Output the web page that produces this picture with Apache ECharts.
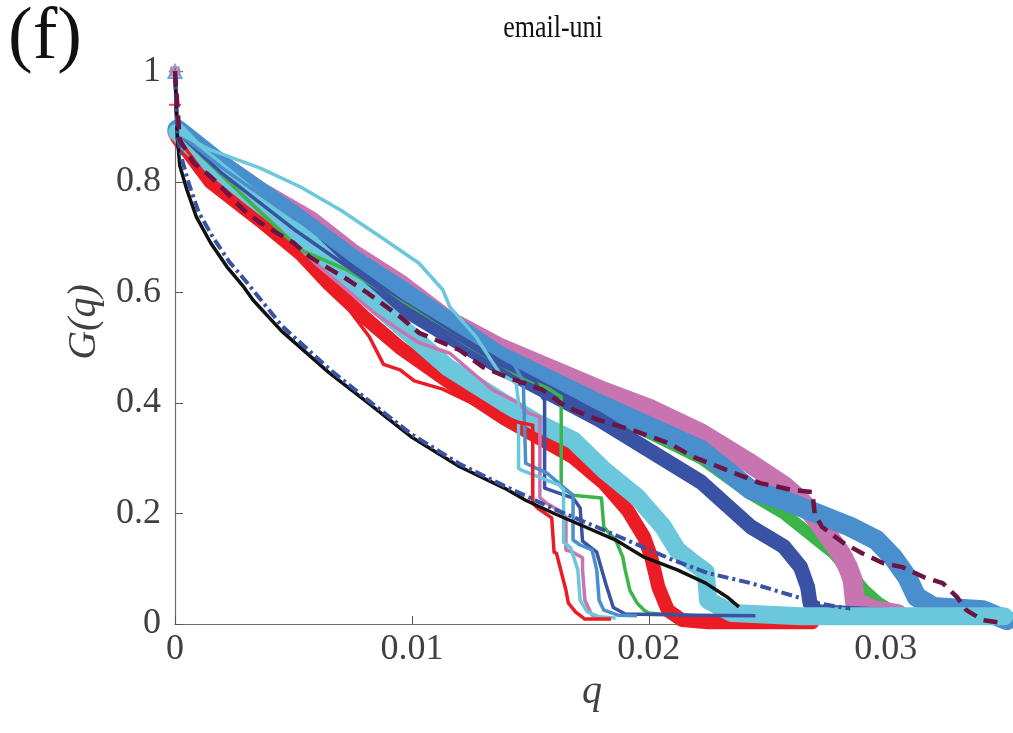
<!DOCTYPE html>
<html>
<head>
<meta charset="utf-8">
<script src="https://cdn.jsdelivr.net/npm/echarts@6/dist/echarts.min.js"></script>
<style>html,body{margin:0;padding:0;background:#fff}#c{width:1013px;height:733px}</style>
</head>
<body>
<div id="c"></div>
<script>
// ---- tick labels ----
const xTicks = [0, 0.01, 0.02, 0.03];
const yTicks = [0, 0.2, 0.4, 0.6, 0.8, 1];

// ---- marker bands (thick); each also has a marker at (0,1) ----
const greenBand = [[0.0001,0.89],[0.005,0.725],[0.0095,0.59],[0.0137,0.475],[0.0179,0.39],[0.0222,0.30],[0.0243,0.235],[0.0257,0.2],[0.0264,0.176],[0.0271,0.152],[0.0278,0.128],[0.0285,0.092],[0.0291,0.061],[0.0297,0.038],[0.0302,0.025],[0.0306,0.013]];
const pinkBand = [[0.0001,0.89],[0.002,0.83],[0.0035,0.785],[0.0057,0.73],[0.0075,0.67],[0.0095,0.615],[0.0115,0.55],[0.0137,0.5],[0.0158,0.462],[0.0179,0.424],[0.02,0.39],[0.0222,0.345],[0.0243,0.29],[0.0257,0.25],[0.0264,0.224],[0.0271,0.188],[0.0277,0.152],[0.0281,0.128],[0.0284,0.103],[0.0286,0.08],[0.0287,0.04],[0.0295,0.025],[0.0305,0.018]];
const blueBand = [[0.0001,0.895],[0.002,0.83],[0.005,0.74],[0.0075,0.66],[0.0095,0.605],[0.0137,0.485],[0.0179,0.398],[0.0222,0.315],[0.0243,0.243],[0.0257,0.224],[0.0271,0.2],[0.0285,0.176],[0.0296,0.152],[0.0303,0.121],[0.0309,0.085],[0.0313,0.049],[0.032,0.031],[0.0341,0.025],[0.0351,0.007]];
const navyBand = [[0.0001,0.89],[0.002,0.815],[0.005,0.715],[0.0075,0.635],[0.0095,0.574],[0.0137,0.465],[0.0179,0.37],[0.0222,0.257],[0.0243,0.176],[0.0257,0.14],[0.0264,0.103],[0.0267,0.067],[0.0268,0.038],[0.0271,0.022],[0.03,0.016],[0.031,0.013]];
const redBand = [[0.0001,0.88],[0.0015,0.80],[0.0036,0.73],[0.0053,0.67],[0.0065,0.615],[0.008,0.555],[0.0095,0.50],[0.0115,0.44],[0.0139,0.372],[0.0153,0.338],[0.0168,0.302],[0.0181,0.255],[0.0191,0.206],[0.0198,0.157],[0.0201,0.121],[0.0204,0.067],[0.0208,0.025],[0.0214,0.007],[0.0225,0.003],[0.0269,0.003]];
const cyanBand = [[0.0001,0.89],[0.001,0.85],[0.003,0.78],[0.0057,0.69],[0.0075,0.615],[0.0095,0.54],[0.0115,0.465],[0.0139,0.40],[0.0153,0.364],[0.0168,0.333],[0.0181,0.279],[0.0195,0.23],[0.0206,0.176],[0.0212,0.134],[0.0219,0.11],[0.0224,0.094],[0.0225,0.043],[0.0235,0.02],[0.0264,0.014],[0.035,0.014]];
const bandTop = [[0,1]];
const redTop = [[0,1],[0,0.94]];

// ---- thin solid lines ----
const pinkThin = [[0,1],[0.0001,0.89],[0.003,0.77],[0.006,0.65],[0.0085,0.56],[0.0103,0.509],[0.0116,0.49],[0.0134,0.424],[0.0145,0.4],[0.0149,0.382],[0.0154,0.375],[0.0154,0.229],[0.0157,0.218],[0.0162,0.206],[0.0165,0.194],[0.0165,0.134],[0.0168,0.13],[0.0172,0.12],[0.0172,0.098],[0.0173,0.043],[0.0176,0.016],[0.018,0.011]];
const greenThin = [[0,1],[0.0001,0.89],[0.003,0.77],[0.0053,0.677],[0.0073,0.64],[0.01,0.57],[0.0125,0.5],[0.0145,0.45],[0.0158,0.425],[0.0163,0.411],[0.0163,0.248],[0.0168,0.233],[0.018,0.228],[0.0181,0.175],[0.0186,0.152],[0.0189,0.121],[0.019,0.098],[0.0192,0.061],[0.0195,0.038],[0.0198,0.025],[0.02,0.02],[0.0205,0.018]];
const navyThin = [[0,1],[0.0001,0.89],[0.002,0.815],[0.005,0.715],[0.0095,0.58],[0.0137,0.47],[0.0152,0.44],[0.0155,0.411],[0.0156,0.405],[0.0156,0.246],[0.0168,0.228],[0.0171,0.21],[0.0172,0.15],[0.0178,0.13],[0.0182,0.07],[0.0185,0.03],[0.019,0.018],[0.022,0.016],[0.0245,0.015]];
const blueThin = [[0,1],[0.0001,0.89],[0.002,0.825],[0.005,0.735],[0.0095,0.623],[0.0116,0.556],[0.013,0.52],[0.0142,0.478],[0.0146,0.447],[0.0147,0.436],[0.0148,0.291],[0.0157,0.273],[0.0168,0.233],[0.0168,0.152],[0.0171,0.143],[0.0176,0.134],[0.0178,0.098],[0.0179,0.043],[0.0181,0.025],[0.0187,0.016],[0.0195,0.015]];
const cyanThin = [[0,1],[0.0001,0.89],[0.0015,0.858],[0.0036,0.825],[0.0053,0.791],[0.007,0.749],[0.0087,0.70],[0.0103,0.653],[0.0113,0.605],[0.0116,0.574],[0.0127,0.52],[0.0137,0.454],[0.0144,0.436],[0.0145,0.40],[0.0145,0.282],[0.0146,0.279],[0.0162,0.252],[0.0164,0.243],[0.0164,0.148],[0.0167,0.138],[0.017,0.098],[0.0171,0.043],[0.0174,0.022],[0.0179,0.013],[0.0186,0.011]];
const redThin = [[0,1],[0.0001,0.88],[0.0015,0.80],[0.0036,0.735],[0.0053,0.67],[0.0068,0.6],[0.0082,0.52],[0.0088,0.47],[0.0095,0.46],[0.0101,0.44],[0.0113,0.425],[0.013,0.39],[0.0145,0.365],[0.0151,0.36],[0.0151,0.219],[0.0153,0.21],[0.0159,0.192],[0.016,0.13],[0.0161,0.128],[0.0165,0.061],[0.0166,0.038],[0.0169,0.022],[0.0173,0.009],[0.0184,0.009]];

// ---- reference curves ----
const blackLine = [[0,1],[0.0001,0.88],[0.0002,0.83],[0.0005,0.786],[0.0009,0.737],[0.0015,0.69],[0.0022,0.646],[0.0029,0.61],[0.0033,0.586],[0.0045,0.53],[0.0065,0.455],[0.008,0.405],[0.01,0.338],[0.012,0.285],[0.0139,0.246],[0.0148,0.224],[0.016,0.2],[0.0173,0.176],[0.0186,0.152],[0.0198,0.121],[0.0212,0.098],[0.0224,0.074],[0.0233,0.049],[0.0238,0.031]];
const dashDotLine = [[0,1],[0.0001,0.885],[0.0003,0.84],[0.0006,0.795],[0.001,0.745],[0.0016,0.70],[0.0023,0.655],[0.003,0.62],[0.0045,0.54],[0.0065,0.462],[0.008,0.41],[0.01,0.343],[0.012,0.29],[0.0139,0.25],[0.016,0.208],[0.0181,0.17],[0.021,0.116],[0.0225,0.092],[0.0243,0.074],[0.0257,0.056],[0.0271,0.038],[0.028,0.031],[0.0285,0.028]];
const maroonDash = [[0,1],[0.0002,0.876],[0.0008,0.834],[0.0015,0.81],[0.0022,0.78],[0.0029,0.749],[0.0036,0.726],[0.0043,0.708],[0.005,0.69],[0.0057,0.664],[0.0064,0.646],[0.0073,0.623],[0.0081,0.6],[0.0095,0.556],[0.0103,0.527],[0.012,0.496],[0.013,0.465],[0.014,0.447],[0.0155,0.424],[0.0165,0.393],[0.0179,0.369],[0.0193,0.351],[0.0208,0.328],[0.0219,0.302],[0.0247,0.255],[0.026,0.243],[0.0269,0.239],[0.027,0.2],[0.0273,0.176],[0.0282,0.147],[0.029,0.128],[0.0299,0.11],[0.0307,0.103],[0.0316,0.085],[0.0324,0.074],[0.033,0.049],[0.0334,0.025],[0.0341,0.007],[0.0349,0.002]];

const C = {
  red:'#ec1c24', pink:'#c774b0', cyan:'#6bc8dc', blue:'#4a8fcd',
  navy:'#3a52a3', green:'#3bb54a', black:'#111111', maroon:'#6c1444'
};
const FONT = '"Liberation Serif","Times New Roman",serif';

function band(data, color, w) {
  return {type:'line', data, showSymbol:false, silent:true, animation:false,
    lineStyle:{color, width:w, join:'round', cap:'round'}};
}
function thin(data, color, w, type) {
  return {type:'line', data, showSymbol:false, silent:true, animation:false,
    lineStyle:{color, width:w, type: type || 'solid', join:'round'}};
}
function marks(data, symbol, color, size) {
  return {type:'scatter', data, symbol, symbolSize:size, silent:true, animation:false,
    itemStyle:{color:'rgba(0,0,0,0)', borderColor:color, borderWidth:2}};
}

const chart = echarts.init(document.getElementById('c'), null, {renderer:'canvas'});
chart.setOption({
  backgroundColor:'#fff',
  animation:false,
  grid:{left:175, right:4, top:71.5, bottom:109, containLabel:false},
  xAxis:{type:'value', min:0, max:0.0352, interval:0.01,
    name:'q', nameLocation:'middle', nameGap:30,
    nameTextStyle:{fontFamily:FONT, fontStyle:'italic', fontSize:40, color:'#404040'},
    axisLine:{show:true, lineStyle:{color:'#6e6e6e', width:1.2}},
    axisTick:{show:true, inside:true, length:8, customValues:xTicks, lineStyle:{color:'#555', width:1}},
    axisLabel:{customValues:xTicks, margin:8, fontFamily:FONT, fontSize:36, color:'#404040',
      formatter:v => String(+v.toFixed(3))},
    splitLine:{show:false}},
  yAxis:{type:'value', min:0, max:1, interval:0.2,
    axisLine:{show:true, lineStyle:{color:'#6e6e6e', width:1.2}},
    axisTick:{show:true, inside:true, length:8, lineStyle:{color:'#555', width:1}},
    axisLabel:{margin:14, fontFamily:FONT, fontSize:36, color:'#404040',
      formatter:v => String(+v.toFixed(2))},
    splitLine:{show:false}},
  graphic:[
    {type:'text', x:553, y:12, scaleY:1.25, style:{text:'email-uni', font:'26px ' + FONT, fill:'#111', textAlign:'center', textVerticalAlign:'top'}},
    {type:'text', x:8, y:2, style:{text:'(f)', font:'74px ' + FONT, fill:'#111', textAlign:'left', textVerticalAlign:'top'}},
    {type:'text', x:84, y:322, rotation:Math.PI/2, style:{text:'G(q)', font:'italic 40px ' + FONT, fill:'#404040', textAlign:'center', textVerticalAlign:'middle'}}
  ],
  series:[
    band(greenBand, C.green, 12),
    band(pinkBand, C.pink, 20),
    band(blueBand, C.blue, 20),
    band(navyBand, C.navy, 15),
    band(redBand, C.red, 14),
    band(cyanBand, C.cyan, 18),
    thin(pinkThin, C.pink, 3.5),
    thin(greenThin, C.green, 3.5),
    thin(navyThin, C.navy, 3.5),
    thin(blueThin, C.blue, 3.5),
    thin(cyanThin, C.cyan, 3.5),
    thin(redThin, C.red, 3.5),
    thin(blackLine, C.black, 3.5),
    thin(dashDotLine, C.navy, 4, [11,4,3,4]),
    thin(maroonDash, C.maroon, 4.5, [14,8]),
    marks(redTop, 'path://M0,-1L0,1M-1,0L1,0', C.red, 12),
    marks(bandTop, 'triangle', C.blue, 13),
    marks(bandTop, 'diamond', C.cyan, 11),
    marks(bandTop, 'rect', C.pink, 8)
  ]
});
</script>
</body>
</html>
